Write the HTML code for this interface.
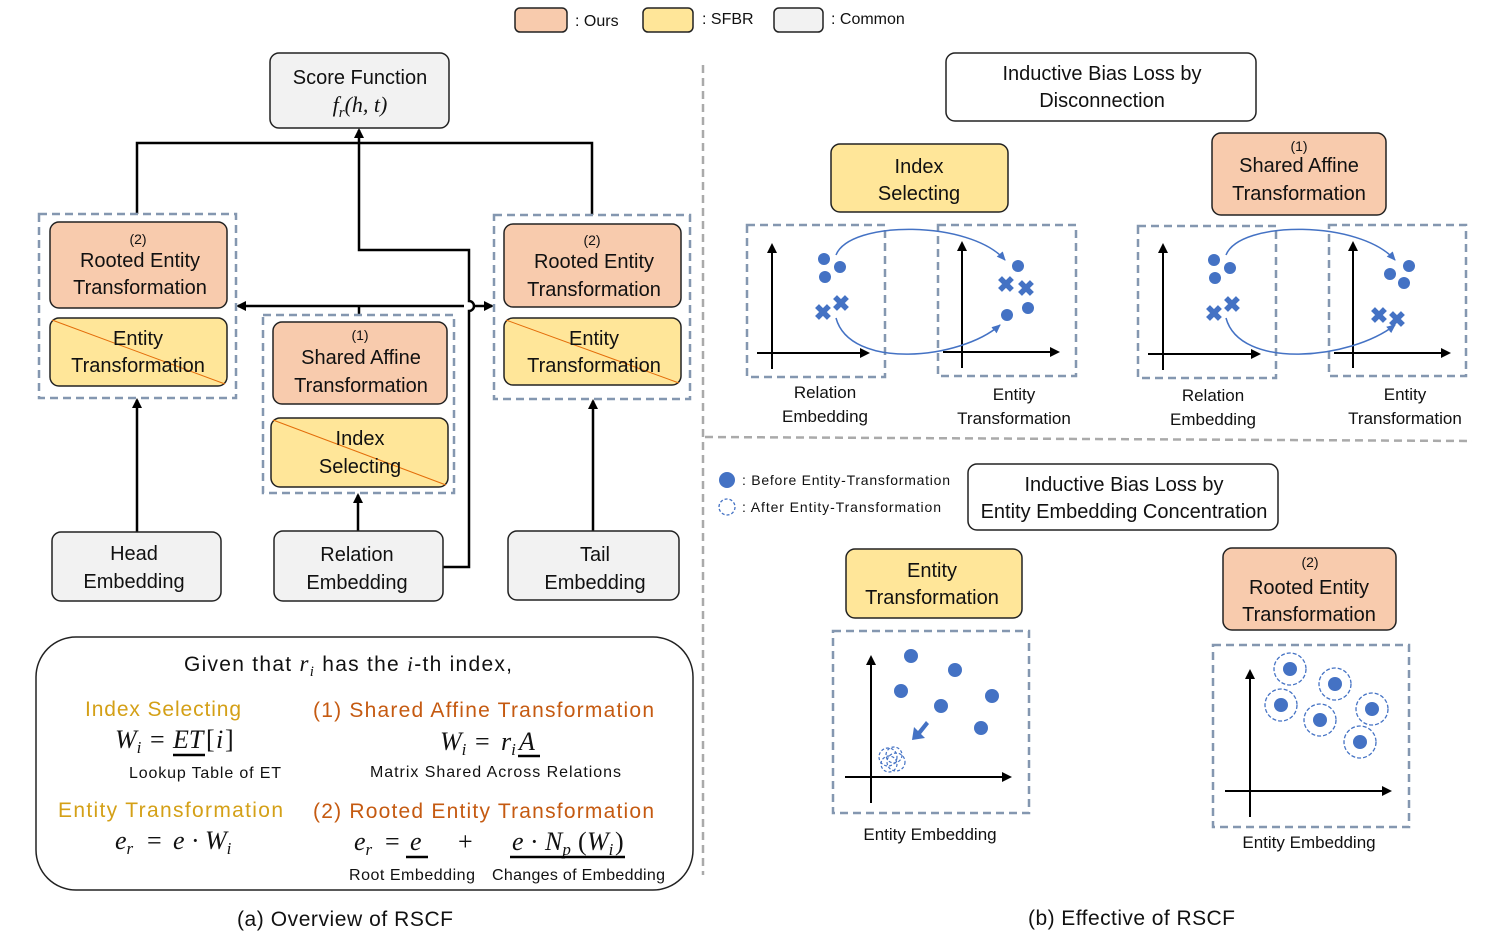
<!DOCTYPE html>
<html><head><meta charset="utf-8"><style>
body{margin:0;background:#fff}
text{font-family:"Liberation Sans",sans-serif;fill:#111}
.m{font-family:"Liberation Serif",serif;font-style:italic}
.n{font-family:"Liberation Serif",serif}
</style></head><body>
<svg width="1495" height="935" viewBox="0 0 1495 935" xmlns="http://www.w3.org/2000/svg">
<defs>
<marker id="a" markerWidth="10" markerHeight="10" refX="8" refY="5" orient="auto" markerUnits="userSpaceOnUse"><path d="M0,0 L10,5 L0,10z" fill="#000"/></marker>
<marker id="b" markerWidth="10" markerHeight="10" refX="8" refY="5" orient="auto" markerUnits="userSpaceOnUse"><path d="M0,1 L9,5 L0,9z" fill="#4472C4"/></marker>
</defs>
<g stroke="#222" stroke-width="1.5">
<rect x="515" y="8" width="52" height="24" rx="5" fill="#F8CBAD"/>
<rect x="643" y="8" width="50" height="24" rx="5" fill="#FFE699"/>
<rect x="774" y="8" width="49" height="24" rx="5" fill="#F2F2F2"/>
</g>
<g font-size="16"><text x="575" y="26">: Ours</text><text x="702" y="24">: SFBR</text><text x="831" y="24">: Common</text></g>

<g stroke="#000" stroke-width="2.5" fill="none">
<path d="M137,214 V143 H592 V215"/>
<path d="M443,567 H469 V311 A5,5 0 0 0 469,301 V250 H359 V130" marker-end="url(#a)"/>
<path d="M359,315 V306"/>
<path d="M359,306 H238" marker-end="url(#a)"/>
<path d="M359,306 H464 M474,306 H492" marker-end="url(#a)"/>
<path d="M137,532 V400" marker-end="url(#a)"/>
<path d="M358,531 V495" marker-end="url(#a)"/>
<path d="M593,531 V401" marker-end="url(#a)"/>
</g>
<g stroke="#222" stroke-width="1.5">
<rect x="270" y="53" width="179" height="75" rx="9" fill="#F2F2F2"/>
<rect x="52" y="532" width="169" height="69" rx="9" fill="#F2F2F2"/>
<rect x="274" y="531" width="169" height="70" rx="9" fill="#F2F2F2"/>
<rect x="508" y="531" width="171" height="69" rx="9" fill="#F2F2F2"/>
<rect x="50" y="222" width="177" height="86" rx="9" fill="#F8CBAD"/>
<rect x="50" y="318" width="177" height="68" rx="9" fill="#FFE699"/>
<rect x="273" y="322" width="174" height="82" rx="9" fill="#F8CBAD"/>
<rect x="271" y="418" width="177" height="69" rx="9" fill="#FFE699"/>
<rect x="504" y="224" width="177" height="83" rx="9" fill="#F8CBAD"/>
<rect x="504" y="318" width="177" height="67" rx="9" fill="#FFE699"/>
</g>
<g stroke="#E36C09" stroke-width="1">
<line x1="52" y1="320" x2="225" y2="384"/><line x1="273" y1="420" x2="446" y2="485"/><line x1="506" y1="320" x2="679" y2="383"/>
</g>
<g fill="none" stroke="#8497B0" stroke-width="2.5" stroke-dasharray="8,5">
<rect x="39" y="214" width="197" height="184"/>
<rect x="263" y="315" width="191" height="178"/>
<rect x="494" y="215" width="196" height="184"/>
</g>
<g font-size="20" text-anchor="middle">
<text x="360" y="84">Score Function</text>
<text x="360" y="112" class="m" font-size="22">f<tspan font-size="15" dy="5">r</tspan><tspan dy="-5">(h, t)</tspan></text>
<text x="138" y="244" font-size="14">(2)</text><text x="140" y="267">Rooted Entity</text><text x="140" y="294">Transformation</text>
<text x="138" y="345">Entity</text><text x="138" y="372">Transformation</text>
<text x="360" y="340" font-size="14">(1)</text><text x="361" y="364">Shared Affine</text><text x="361" y="392">Transformation</text>
<text x="360" y="445">Index</text><text x="360" y="473">Selecting</text>
<text x="592" y="245" font-size="14">(2)</text><text x="594" y="268">Rooted Entity</text><text x="594" y="296">Transformation</text>
<text x="594" y="345">Entity</text><text x="594" y="372">Transformation</text>
<text x="134" y="560">Head</text><text x="134" y="588">Embedding</text>
<text x="357" y="561">Relation</text><text x="357" y="589">Embedding</text>
<text x="595" y="561">Tail</text><text x="595" y="589">Embedding</text>
</g>

<rect x="36" y="637" width="657" height="253" rx="40" fill="none" stroke="#222" stroke-width="1.5"/>
<g font-size="21">
<text x="184" y="671" textLength="328">Given that <tspan class="m" font-size="23">r<tspan font-size="15" dy="5">i</tspan></tspan><tspan dy="-5"> has the </tspan><tspan class="m">i</tspan>-th index,</text>
<text x="85" y="716" textLength="156" style="fill:#D4A017">Index Selecting</text>
<text x="313" y="717" textLength="341" style="fill:#C55A11">(1) Shared Affine Transformation</text>
<text x="58" y="817" textLength="225" style="fill:#D4A017">Entity Transformation</text>
<text x="313" y="818" textLength="341" style="fill:#C55A11">(2) Rooted Entity Transformation</text>
</g>
<g font-size="26">
<text x="115" y="748" class="m">W<tspan font-size="17" dy="5">i</tspan></text>
<text x="150" y="748" class="n">=</text>
<text x="173" y="748" class="m">ET</text><text x="206" y="748" class="n">[</text><text x="216" y="748" class="m">i</text><text x="225" y="748" class="n">]</text>
<text x="440" y="750" class="m">W<tspan font-size="17" dy="5">i</tspan></text>
<text x="475" y="750" class="n">=</text>
<text x="501" y="750" class="m">r<tspan font-size="17" dy="5">i</tspan></text>
<text x="519" y="750" class="m">A</text>
<text x="115" y="849" class="m">e<tspan font-size="17" dy="5">r</tspan></text>
<text x="147" y="849" class="n">=</text>
<text x="173" y="849" class="m">e</text><text x="191" y="849" class="n">·</text>
<text x="205" y="849" class="m">W<tspan font-size="17" dy="5">i</tspan></text>
<text x="354" y="850" class="m">e<tspan font-size="17" dy="5">r</tspan></text>
<text x="385" y="850" class="n">=</text>
<text x="410" y="850" class="m">e</text>
<text x="458" y="850" class="n">+</text>
<text x="512" y="850" class="m">e</text><text x="530" y="850" class="n">·</text>
<text x="545" y="850" class="m">N<tspan font-size="17" dy="5">p</tspan></text>
<text x="578" y="850" class="n">(</text><text x="587" y="850" class="m">W<tspan font-size="17" dy="5">i</tspan></text><text x="615" y="850" class="n">)</text>
</g>
<g stroke="#000" stroke-width="2.5"><line x1="173" y1="755" x2="205" y2="755"/><line x1="518" y1="756" x2="540" y2="756"/><line x1="406" y1="857" x2="428" y2="857"/><line x1="510" y1="857" x2="625" y2="857"/></g>
<g font-size="16"><text x="129" y="778" textLength="152">Lookup Table of ET</text><text x="370" y="777" textLength="251">Matrix Shared Across Relations</text>
<text x="349" y="880" textLength="126">Root Embedding</text><text x="492" y="880" textLength="173">Changes of Embedding</text></g>
<text x="237" y="926" font-size="21" textLength="216">(a) Overview of RSCF</text>
<text x="1028" y="925" font-size="21" textLength="207">(b) Effective of RSCF</text>

<g stroke="#AAA" stroke-width="2.5" stroke-dasharray="8,5"><line x1="703" y1="65" x2="703" y2="875"/><line x1="705" y1="437" x2="1472" y2="441"/></g>

<g stroke="#222" stroke-width="1.5">
<rect x="946" y="53" width="310" height="68" rx="9" fill="#fff"/>
<rect x="831" y="144" width="177" height="68" rx="9" fill="#FFE699"/>
<rect x="1212" y="133" width="174" height="82" rx="9" fill="#F8CBAD"/>
<rect x="968" y="464" width="310" height="66" rx="9" fill="#fff"/>
<rect x="846" y="549" width="176" height="69" rx="9" fill="#FFE699"/>
<rect x="1223" y="548" width="173" height="82" rx="9" fill="#F8CBAD"/>
</g>
<g font-size="20" text-anchor="middle">
<text x="1102" y="80">Inductive Bias Loss by</text><text x="1102" y="107">Disconnection</text>
<text x="919" y="173">Index</text><text x="919" y="200">Selecting</text>
<text x="1299" y="151" font-size="14">(1)</text><text x="1299" y="172">Shared Affine</text><text x="1299" y="200">Transformation</text>
<text x="1124" y="491">Inductive Bias Loss by</text><text x="1124" y="518">Entity Embedding Concentration</text>
<text x="932" y="577">Entity</text><text x="932" y="604">Transformation</text>
<text x="1310" y="567" font-size="14">(2)</text><text x="1309" y="594">Rooted Entity</text><text x="1309" y="621">Transformation</text>
</g>
<g font-size="17" text-anchor="middle">
<text x="825" y="398">Relation</text><text x="825" y="422">Embedding</text>
<text x="1014" y="400">Entity</text><text x="1014" y="424">Transformation</text>
<text x="1213" y="401">Relation</text><text x="1213" y="425">Embedding</text>
<text x="1405" y="400">Entity</text><text x="1405" y="424">Transformation</text>
<text x="930" y="840">Entity Embedding</text><text x="1309" y="848">Entity Embedding</text>
</g>
<g font-size="14"><text x="742" y="485" textLength="208">: Before Entity-Transformation</text><text x="742" y="512" textLength="199">: After Entity-Transformation</text></g>
<circle cx="727" cy="480" r="8" fill="#4472C4"/>
<circle cx="727" cy="507" r="8" fill="none" stroke="#4472C4" stroke-width="1.3" stroke-dasharray="3,2"/>

<g fill="none" stroke="#8497B0" stroke-width="2.5" stroke-dasharray="8,5">
<rect x="747" y="225" width="138" height="152"/><rect x="938" y="225" width="138" height="151"/>
<rect x="1138" y="226" width="138" height="152"/><rect x="1329" y="225" width="137" height="151"/>
<rect x="833" y="631" width="196" height="182"/><rect x="1213" y="645" width="196" height="182"/>
</g>
<g stroke="#000" stroke-width="2">
<line x1="772" y1="369" x2="772" y2="245" marker-end="url(#a)"/><line x1="757" y1="353" x2="868" y2="353" marker-end="url(#a)"/>
<line x1="962" y1="368" x2="962" y2="243" marker-end="url(#a)"/><line x1="943" y1="352" x2="1058" y2="352" marker-end="url(#a)"/>
<line x1="1163" y1="370" x2="1163" y2="245" marker-end="url(#a)"/><line x1="1148" y1="354" x2="1259" y2="354" marker-end="url(#a)"/>
<line x1="1353" y1="368" x2="1353" y2="243" marker-end="url(#a)"/><line x1="1334" y1="353" x2="1449" y2="353" marker-end="url(#a)"/>
<line x1="871" y1="803" x2="871" y2="657" marker-end="url(#a)"/><line x1="845" y1="777" x2="1010" y2="777" marker-end="url(#a)"/>
<line x1="1250" y1="817" x2="1250" y2="671" marker-end="url(#a)"/><line x1="1225" y1="791" x2="1390" y2="791" marker-end="url(#a)"/>
</g>
<g fill="none" stroke="#4472C4" stroke-width="1.5">
<path d="M836,255 C850,220 970,220 1005,260" marker-end="url(#b)"/>
<path d="M836,318 C850,370 960,360 1000,325" marker-end="url(#b)"/>
<path d="M1226,255 C1240,220 1360,220 1395,260" marker-end="url(#b)"/>
<path d="M1226,318 C1240,370 1350,360 1395,325" marker-end="url(#b)"/>
</g>
<g fill="#4472C4">
<circle cx="824" cy="259" r="6"/><circle cx="840" cy="267" r="6"/><circle cx="825" cy="277" r="6"/>
<circle cx="1018" cy="266" r="6"/><circle cx="1007" cy="315" r="6"/><circle cx="1028" cy="308" r="6"/>
<circle cx="1214" cy="260" r="6"/><circle cx="1230" cy="268" r="6"/><circle cx="1215" cy="278" r="6"/>
<circle cx="1409" cy="266" r="6"/><circle cx="1390" cy="274" r="6"/><circle cx="1404" cy="283" r="6"/>
<circle cx="911" cy="656" r="7"/><circle cx="955" cy="670" r="7"/><circle cx="901" cy="691" r="7"/><circle cx="992" cy="696" r="7"/><circle cx="941" cy="706" r="7"/><circle cx="981" cy="728" r="7"/>
</g>
<g font-size="22" font-weight="bold" text-anchor="middle">
<text x="823" y="320" style="fill:#4472C4">✖</text><text x="841" y="311" style="fill:#4472C4">✖</text>
<text x="1006" y="292" style="fill:#4472C4">✖</text><text x="1026" y="296" style="fill:#4472C4">✖</text>
<text x="1214" y="321" style="fill:#4472C4">✖</text><text x="1232" y="312" style="fill:#4472C4">✖</text>
<text x="1379" y="323" style="fill:#4472C4">✖</text><text x="1397" y="327" style="fill:#4472C4">✖</text>
</g>
<path d="M926,721 L918,731 L914,727 L912,740 L925,738 L921,734 L929,724z" fill="#4472C4"/>
<g fill="none" stroke="#4472C4" stroke-width="1.2" stroke-dasharray="3,2">
<circle cx="888" cy="757" r="9"/><circle cx="896" cy="762" r="9"/><circle cx="889" cy="764" r="8"/><circle cx="894" cy="755" r="8"/>
</g>
<g fill="none" stroke="#4472C4" stroke-width="1.3" stroke-dasharray="4,2">
<circle cx="1290" cy="669" r="16"/><circle cx="1335" cy="684" r="16"/><circle cx="1281" cy="705" r="16"/><circle cx="1372" cy="709" r="16"/><circle cx="1320" cy="720" r="16"/><circle cx="1360" cy="742" r="16"/>
</g>
<g fill="#4472C4">
<circle cx="1290" cy="669" r="7"/><circle cx="1335" cy="684" r="7"/><circle cx="1281" cy="705" r="7"/><circle cx="1372" cy="709" r="7"/><circle cx="1320" cy="720" r="7"/><circle cx="1360" cy="742" r="7"/>
</g>
</svg>
</body></html>
